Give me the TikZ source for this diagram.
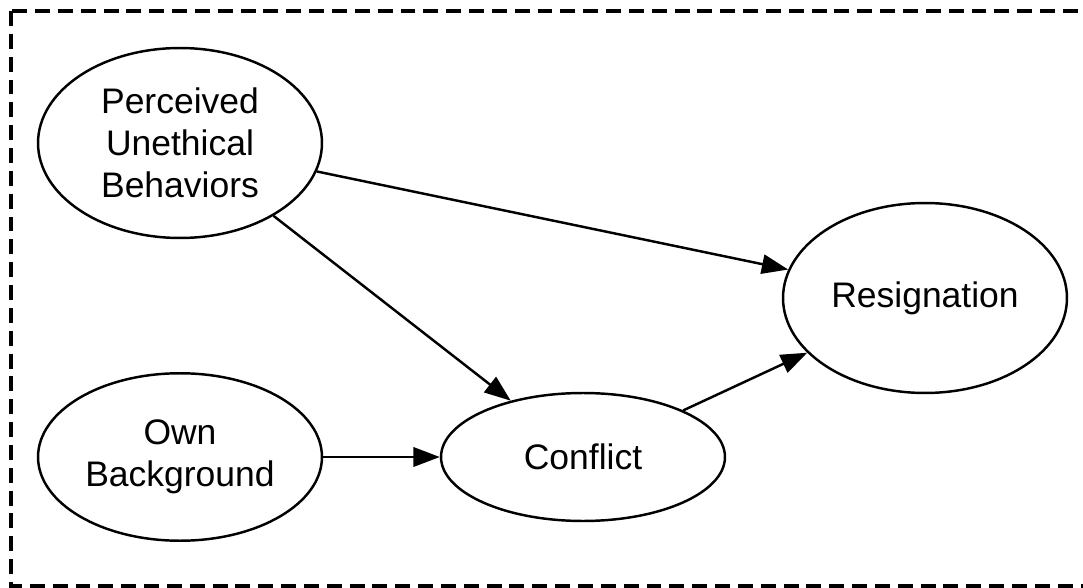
\documentclass[tikz,border=0pt]{standalone}
\usepackage{fontspec}
\setmainfont{Liberation Sans}
\usetikzlibrary{positioning,arrows.meta,shapes.geometric}

\begin{document}
\begin{tikzpicture}[
    x=0.02cm, y=-0.02cm,
    blob/.style={
        ellipse,
        draw,
        line width=1.4pt,
        inner sep=0pt,
        align=center,
        minimum width=5.68cm,
        minimum height=3.8cm,
        font=\fontsize{20.2}{23.8}\selectfont
    },
    arrow/.style={
        -{Triangle[length=15pt,width=11pt]},
        line width=1.4pt
    },
    frame/.style={draw, line width=1.8pt, dash pattern=on 8.5pt off 4.5pt}
]

\useasboundingbox (0,0) rectangle (1083,588);
\draw[frame] (11,11) rectangle (1100,586);

%% ===== ellipses =====
\node[blob] (pub) at (180,143) {Perceived\\Unethical\\Behaviors};
\node[blob, minimum height=3.35cm] (own) at (180,457) {Own\\Background};
\node[blob, minimum height=2.56cm] (conf) at (583,457) {Conflict};
\node[blob] (resig) at (925,298) {Resignation};

%% ===== arrows =====
\draw[arrow] (pub) -- (resig);
\draw[arrow] (pub) -- (conf);
\draw[arrow] (own) -- (conf);
\draw[arrow] (conf) -- (resig);

\end{tikzpicture}
\end{document}
